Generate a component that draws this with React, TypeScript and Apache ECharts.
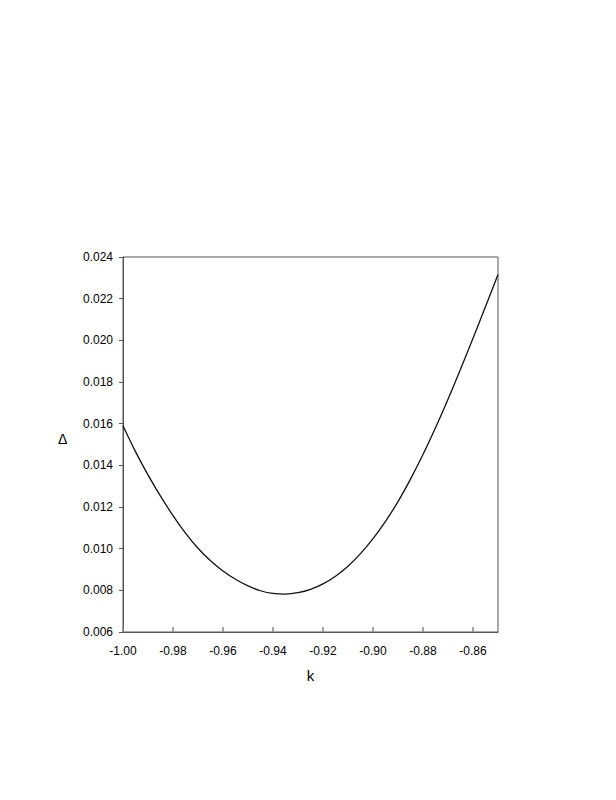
import React, { useEffect, useRef } from "react";
import * as echarts from "echarts";

const kValues = [
  -1.0, -0.995, -0.99, -0.985, -0.98, -0.975, -0.97, -0.965, -0.96, -0.955,
  -0.95, -0.945, -0.94, -0.935, -0.93, -0.925, -0.92, -0.915, -0.91, -0.905,
  -0.9, -0.895, -0.89, -0.885, -0.88, -0.875, -0.87, -0.865, -0.86, -0.855, -0.85,
];
const deltaValues = [
  0.0159, 0.01466, 0.01354, 0.01252, 0.01159, 0.01075, 0.01002, 0.00942, 0.00893, 0.00853,
  0.00821, 0.00798, 0.00785, 0.00782, 0.00789, 0.00805, 0.00831, 0.00868, 0.00916, 0.00976,
  0.01048, 0.01131, 0.01226, 0.01334, 0.01452, 0.0158, 0.01717, 0.01861, 0.0201, 0.02162, 0.02316,
];
const xTickLabels = ["-1.00", "-0.98", "-0.96", "-0.94", "-0.92", "-0.90", "-0.88", "-0.86"];
const yTickLabels = ["0.006", "0.008", "0.010", "0.012", "0.014", "0.016", "0.018", "0.020", "0.022", "0.024"];
const xTitle = "k";
const yTitle = "Δ";

export default function App() {
  const ref = useRef<HTMLDivElement>(null);
  useEffect(() => {
    if (!ref.current) return;
    const chart = echarts.init(ref.current, null, { renderer: "svg" });
    const font = "Liberation Sans, Arial, sans-serif";
    chart.setOption({
      animation: false,
      backgroundColor: "#fff",
      grid: {
        left: 115,
        top: 249,
        width: 375,
        height: 375,
        show: true,
        borderColor: "#555",
        borderWidth: 1,
        backgroundColor: "transparent",
      },
      graphic: [
        {
          type: "text",
          left: 50,
          top: 424,
          style: { text: yTitle, fontFamily: font, fontSize: 14, fill: "#000" },
        },
      ],
      xAxis: {
        type: "value",
        min: -1.0,
        max: -0.85,
        interval: 0.02,
        name: xTitle,
        nameLocation: "middle",
        nameGap: 36,
        nameTextStyle: { fontFamily: font, fontSize: 15, color: "#000" },
        axisLine: { show: true, onZero: false, lineStyle: { color: "#555", width: 1 } },
        axisTick: { show: true, inside: true, length: 5, lineStyle: { color: "#888", width: 1.5 } },
        splitLine: { show: false },
        axisLabel: {
          fontFamily: font,
          fontSize: 12,
          color: "#000",
          margin: 13,
          showMaxLabel: false,
          formatter: (v: number) => {
            const i = Math.round((v + 1.0) / 0.02);
            return xTickLabels[i] ?? "";
          },
        },
      },
      yAxis: {
        type: "value",
        min: 0.006,
        max: 0.024,
        interval: 0.002,
        axisLine: { show: true, lineStyle: { color: "#555", width: 1 } },
        axisTick: { show: true, inside: false, length: 4, lineStyle: { color: "#555", width: 1 } },
        splitLine: { show: false },
        axisLabel: {
          fontFamily: font,
          fontSize: 12,
          color: "#000",
          margin: 10,
          formatter: (v: number) => {
            const i = Math.round((v - 0.006) / 0.002);
            return yTickLabels[i] ?? "";
          },
        },
      },
      series: [
        {
          type: "line",
          data: kValues.map((k, i) => [k, deltaValues[i]]),
          smooth: 0.4,
          showSymbol: false,
          lineStyle: { color: "#111", width: 1.3 },
        },
      ],
    });
    return () => chart.dispose();
  }, []);
  return <div ref={ref} style={{ width: 600, height: 784 }} />;
}
